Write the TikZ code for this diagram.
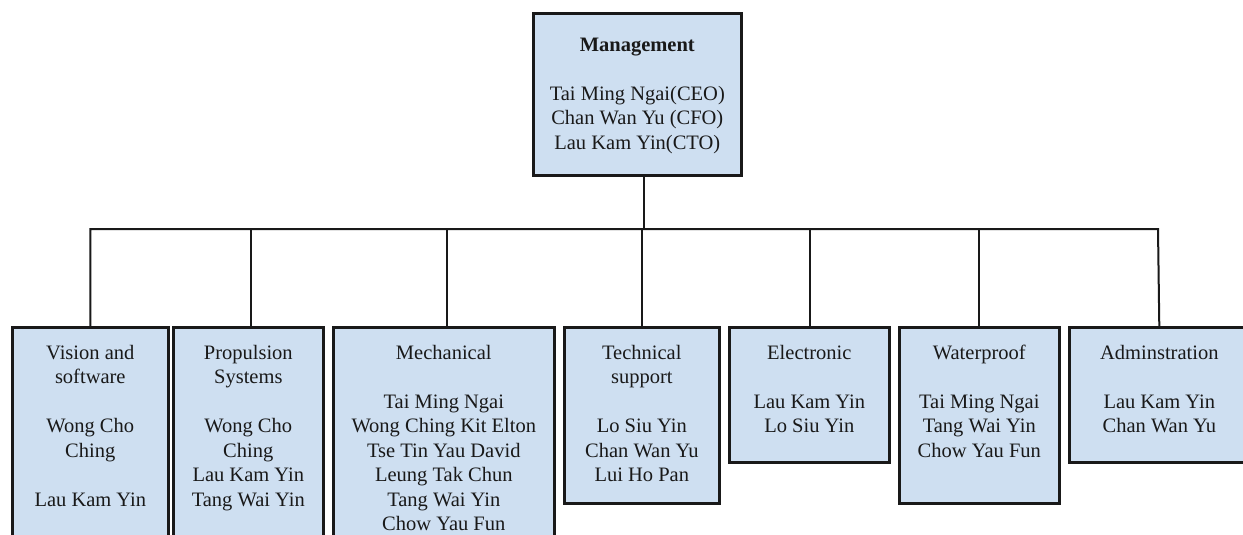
\documentclass[tikz,border=0pt]{standalone}
\usepackage{fontspec}
\setmainfont{Liberation Serif}
\definecolor{boxfill}{RGB}{206,223,241}
\definecolor{ink}{RGB}{25,25,25}
\begin{document}
\begin{tikzpicture}[x=1pt,y=-1pt,
  box/.style={draw=ink, fill=boxfill, line width=2.6pt, inner sep=0pt, anchor=north west},
  txt/.style={text=ink, align=center, inner sep=0pt, anchor=north, font=\fontsize{20.5pt}{24.5pt}\selectfont},
  conn/.style={draw=ink, line width=2pt}]
\useasboundingbox (0,0) rectangle (1243,535);
\fill[white] (0,0) rectangle (1243,535);

% boxes
\node[box, minimum width=208pt, minimum height=162pt] (mgmt)  at (532,12)  {};
\node[box, minimum width=156pt, minimum height=230pt] (vis)   at (11,326)  {};
\node[box, minimum width=150pt, minimum height=230pt] (prop)  at (172,326) {};
\node[box, minimum width=221pt, minimum height=230pt] (mech)  at (332,326) {};
\node[box, minimum width=155pt, minimum height=176pt] (tech)  at (563,326) {};
\node[box, minimum width=160pt, minimum height=135pt] (elec)  at (728,326) {};
\node[box, minimum width=160pt, minimum height=176pt] (water) at (898,326) {};
\node[box, minimum width=180pt, minimum height=135pt] (admin) at (1068,326) {};

% texts
\node[txt] (mgmtT) at ([yshift=-22pt]mgmt.north) {\strut\textbf{Management}\\[24.5pt]Tai Ming Ngai(CEO)\\Chan Wan Yu (CFO)\\Lau Kam Yin(CTO)};
\node[txt] (visT) at ([yshift=-16pt]vis.north) {\strut Vision and\\software\\[24.5pt]Wong Cho\\Ching\\[24.5pt]Lau Kam Yin};
\node[txt] (propT) at ([yshift=-16pt]prop.north) {\strut Propulsion\\Systems\\[24.5pt]Wong Cho\\Ching\\Lau Kam Yin\\Tang Wai Yin};
\node[txt] (mechT) at ([yshift=-16pt]mech.north) {\strut Mechanical\\[24.5pt]Tai Ming Ngai\\Wong Ching Kit Elton\\Tse Tin Yau David\\Leung Tak Chun\\Tang Wai Yin\\Chow Yau Fun};
\node[txt] (techT) at ([yshift=-16pt]tech.north) {\strut Technical\\support\\[24.5pt]Lo Siu Yin\\Chan Wan Yu\\Lui Ho Pan};
\node[txt] (elecT) at ([yshift=-16pt]elec.north) {\strut Electronic\\[24.5pt]Lau Kam Yin\\Lo Siu Yin};
\node[txt] (waterT) at ([yshift=-16pt]water.north) {\strut Waterproof\\[24.5pt]Tai Ming Ngai\\Tang Wai Yin\\Chow Yau Fun};
\node[txt] (adminT) at ([yshift=-16pt]admin.north) {\strut Adminstration\\[24.5pt]Lau Kam Yin\\Chan Wan Yu};

% connectors
\coordinate (busR) at (1158,229);
\draw[conn] (vis.north) |- (busR) -- (admin.north);
\draw[conn] ([xshift=7pt]mgmt.south) -- ([xshift=7pt]mgmt.south |- busR);
\draw[conn] ([xshift=3pt]prop.north) -- ([xshift=3pt]prop.north |- busR);
\draw[conn] ([xshift=3.5pt]mech.north) -- ([xshift=3.5pt]mech.north |- busR);
\draw[conn] (tech.north) -- (tech.north |- busR);
\draw[conn] ([xshift=1pt]elec.north) -- ([xshift=1pt]elec.north |- busR);
\draw[conn] (water.north) -- (water.north |- busR);
\end{tikzpicture}
\end{document}
